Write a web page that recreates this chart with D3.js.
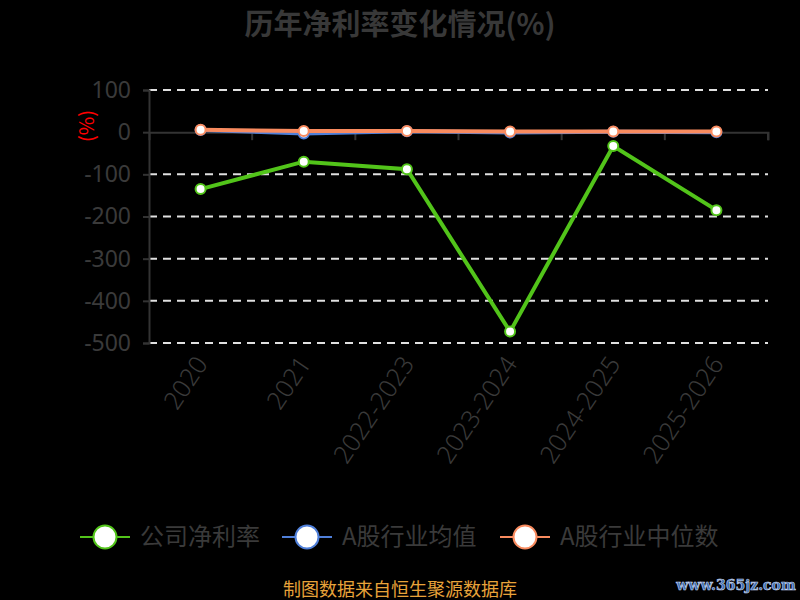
<!DOCTYPE html>
<html>
<head>
<meta charset="utf-8">
<script src="https://cdn.jsdelivr.net/npm/d3@7"></script>
<style>
  html, body { margin: 0; padding: 0; background: #000; }
  svg { display: block; font-family: "Noto Sans CJK SC", "Noto Sans", sans-serif; }
</style>
</head>
<body>
<svg id="chart" width="800" height="600"></svg>
<script>
const categories = ['2020', '2021', '2022-2023', '2023-2024', '2024-2025', '2025-2026'];
const companyRate = [-135, -70, -88, -473, -33, -185];
const industryAvg = [5, -3, 2, -1, 1, 0];
const industryMedian = [6, 2.5, 2.5, 1.5, 1.5, 1.5];
const yTicks = [100, 0, -100, -200, -300, -400, -500];
const seriesNames = ['公司净利率', 'A股行业均值', 'A股行业中位数'];
const seriesColors = ['#52c41a', '#4f7fd9', '#f98b5f'];

const svg = d3.select('#chart');
const margin = { top: 90, right: 32, bottom: 257, left: 149 };
const width = 800, height = 600;

const x = d3.scaleBand()
    .domain(categories)
    .range([margin.left, width - margin.right]);
const y = d3.scaleLinear()
    .domain([-500, 100])
    .range([height - margin.bottom, margin.top]);

// title
svg.append('text')
    .attr('x', 400).attr('y', 35)
    .attr('text-anchor', 'middle')
    .attr('font-size', 29).attr('font-weight', 'bold')
    .attr('fill', '#383838')
    .text('历年净利率变化情况(%)');

// grid lines
svg.append('g')
    .selectAll('line')
    .data(yTicks.filter(d => d !== 0))
    .join('line')
    .attr('x1', margin.left).attr('x2', width - margin.right)
    .attr('y1', d => y(d)).attr('y2', d => y(d))
    .attr('stroke', '#e0e0e0').attr('stroke-width', 2)
    .attr('stroke-dasharray', '8,6');

// y axis
const yAxis = svg.append('g')
    .attr('transform', `translate(${margin.left},0)`)
    .call(d3.axisLeft(y).tickValues(yTicks).tickSize(6).tickPadding(12)
        .tickFormat(d => String(d)));
yAxis.select('.domain').attr('stroke', '#333').attr('stroke-width', 2);
yAxis.selectAll('.tick line').attr('stroke', '#333').attr('stroke-width', 2);
yAxis.selectAll('.tick text')
    .attr('fill', '#3a3a3a').attr('font-size', 23)
    .attr('font-family', '"Noto Sans", sans-serif');

svg.append('text')
    .attr('transform', `translate(87,126) rotate(-90)`)
    .attr('text-anchor', 'middle')
    .attr('dy', '0.35em')
    .attr('fill', '#ff0000').attr('font-size', 20)
    .text('(%)');

// x axis at zero
const xAxis = svg.append('g')
    .attr('transform', `translate(0,${y(0)})`)
    .call(d3.axisBottom(x).tickSize(8).tickFormat(''));
xAxis.select('.domain').attr('stroke', '#333').attr('stroke-width', 2);
xAxis.selectAll('.tick line')
    .attr('stroke', '#333').attr('stroke-width', 2)
    .attr('transform', `translate(${x.bandwidth() / 2},0)`);

// x labels, rotated
svg.append('g')
    .selectAll('text')
    .data(categories)
    .join('text')
    .attr('transform', d => `translate(${x(d) + x.bandwidth() / 2 + 1},${y(-500) + 16}) rotate(-56)`)
    .attr('text-anchor', 'end')
    .attr('dy', '0.35em')
    .attr('fill', '#3a3a3a').attr('font-size', 25)
    .attr('font-family', '"Noto Sans", sans-serif')
    .attr('font-weight', 300)
    .text(d => d);

// lines
const allSeries = [companyRate, industryAvg, industryMedian];
const line = d3.line()
    .x((d, i) => x(categories[i]) + x.bandwidth() / 2)
    .y(d => y(d));

[1, 2, 0].forEach(s => {
  const g = svg.append('g');
  g.append('path')
      .datum(allSeries[s])
      .attr('fill', 'none')
      .attr('stroke', seriesColors[s])
      .attr('stroke-width', 4)
      .attr('d', line);
  g.selectAll('circle')
      .data(allSeries[s])
      .join('circle')
      .attr('cx', (d, i) => x(categories[i]) + x.bandwidth() / 2)
      .attr('cy', d => y(d))
      .attr('r', 5)
      .attr('fill', '#fff')
      .attr('stroke', seriesColors[s])
      .attr('stroke-width', 2);
});

// legend
const legendX = [80, 282, 500];
const legend = svg.append('g')
    .selectAll('g')
    .data(seriesNames)
    .join('g')
    .attr('transform', (d, i) => `translate(${legendX[i]},537)`);
legend.append('line')
    .attr('x1', 0).attr('x2', 50)
    .attr('stroke', (d, i) => seriesColors[i]).attr('stroke-width', 2);
legend.append('circle')
    .attr('cx', 25).attr('r', 11.5)
    .attr('fill', '#fff')
    .attr('stroke', (d, i) => seriesColors[i]).attr('stroke-width', 2);
legend.append('text')
    .attr('x', 60).attr('dy', '0.35em')
    .attr('fill', '#3a3a3a').attr('font-size', 24)
    .text(d => d);

// footer
svg.append('text')
    .attr('x', 400).attr('y', 596)
    .attr('text-anchor', 'middle')
    .attr('fill', '#e8a33a').attr('font-size', 18)
    .text('制图数据来自恒生聚源数据库');

svg.append('text')
    .attr('x', 736).attr('y', 590)
    .attr('text-anchor', 'middle')
    .attr('fill', '#3c6cb4')
    .attr('stroke', '#c8d8ee').attr('stroke-width', 0.6)
    .attr('font-size', 14).attr('font-weight', 'bold')
    .attr('font-family', '"DejaVu Serif", serif')
    .text('www.365jz.com');
</script>
</body>
</html>
